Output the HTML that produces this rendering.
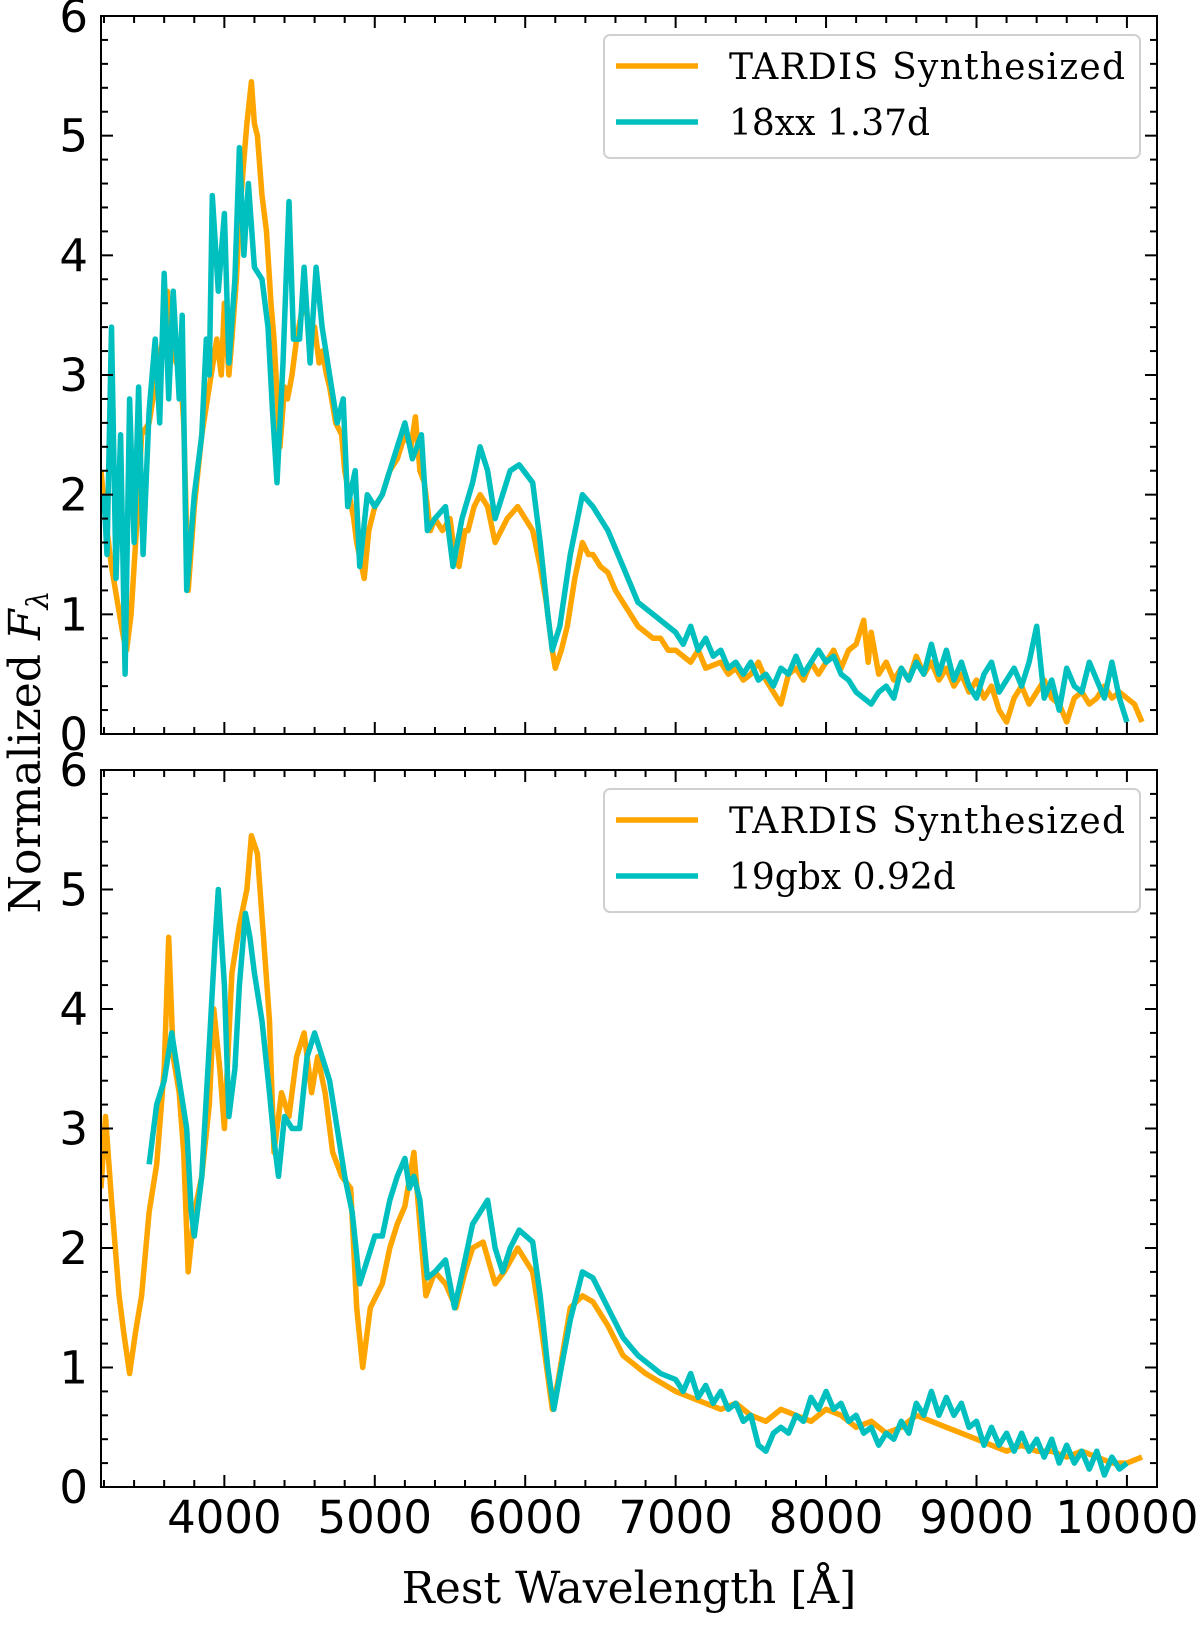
<!DOCTYPE html>
<html><head><meta charset="utf-8"><style>
html,body{margin:0;padding:0;background:#fff}
svg{display:block}
.tk{font-family:"DejaVu Sans","Liberation Sans",sans-serif;font-size:45px;fill:#000}
.sf{font-family:"DejaVu Serif","Liberation Serif",serif;fill:#000}
</style></head><body>
<svg id="chart" width="1200" height="1626" viewBox="0 0 1200 1626" xmlns="http://www.w3.org/2000/svg"></svg>
<script>
// Top panel data
const topOrangeW=[3180,3210,3250,3290,3330,3350,3380,3420,3450,3500,3550,3590,3620,3650,3680,3700,3730,3760,3800,3850,3900,3950,3980,4000,4030,4050,4080,4100,4130,4150,4180,4200,4220,4250,4280,4310,4330,4370,4400,4420,4450,4480,4510,4540,4570,4600,4630,4650,4680,4700,4740,4780,4800,4830,4860,4880,4930,4960,5000,5050,5100,5150,5200,5240,5270,5300,5330,5370,5400,5450,5500,5530,5560,5600,5620,5660,5700,5750,5800,5840,5880,5950,6000,6050,6100,6140,6180,6200,6240,6280,6330,6380,6420,6450,6500,6550,6600,6650,6700,6750,6800,6850,6900,6950,
7000,7100,7150,7200,7300,7350,7400,7450,7500,7550,7600,7650,7700,7750,7800,7850,7900,7950,8000,8050,8100,8150,8200,8250,8280,8300,8350,8400,8450,8500,8550,8600,8650,8700,8750,8800,8850,8900,8950,9000,9050,9100,9150,9200,9250,9300,9350,9400,9450,9500,9550,9600,9650,9700,9750,9800,9850,9900,9950,10000,10050,10100];
const topOrangeF=[2.2,1.8,1.4,1.1,0.8,0.7,1.0,1.8,2.5,2.6,3.0,3.3,3.7,3.3,3.1,3.2,2.6,1.2,1.9,2.5,2.9,3.3,3.0,3.6,3.0,3.3,3.8,4.3,4.8,5.1,5.45,5.1,5.0,4.5,4.2,3.6,3.3,2.4,2.9,2.8,3.0,3.3,3.5,3.6,3.3,3.4,3.1,3.2,3.0,2.9,2.6,2.5,2.2,2.0,1.8,1.6,1.3,1.7,1.9,2.0,2.2,2.3,2.5,2.4,2.65,2.2,2.1,1.7,1.8,1.7,1.8,1.5,1.4,1.7,1.7,1.9,2.0,1.9,1.6,1.7,1.8,1.9,1.8,1.7,1.4,1.1,0.7,0.55,0.7,0.9,1.3,1.6,1.5,1.5,1.4,1.35,1.2,1.1,1.0,0.9,0.85,0.8,0.8,0.7,
0.7,0.6,0.7,0.55,0.6,0.5,0.55,0.45,0.5,0.6,0.45,0.35,0.25,0.5,0.55,0.45,0.6,0.5,0.6,0.7,0.55,0.7,0.75,0.95,0.6,0.85,0.5,0.6,0.45,0.55,0.45,0.65,0.5,0.6,0.45,0.55,0.4,0.5,0.35,0.45,0.3,0.4,0.2,0.1,0.3,0.4,0.25,0.35,0.45,0.3,0.25,0.1,0.3,0.35,0.25,0.3,0.4,0.3,0.35,0.3,0.25,0.1];
const topCyanW=[3200,3220,3250,3280,3310,3340,3370,3400,3430,3460,3500,3540,3570,3600,3630,3660,3700,3720,3750,3800,3850,3880,3900,3920,3960,4000,4030,4070,4100,4130,4160,4200,4250,4290,4320,4350,4390,4430,4460,4500,4530,4570,4610,4650,4700,4750,4790,4820,4870,4900,4950,5000,5050,5100,5150,5200,5250,5310,5350,5400,5470,5520,5580,5650,5700,5750,5800,5850,5900,5960,6050,6100,6150,6180,6230,6300,6380,6450,6550,6650,6750,6850,6950,
7000,7050,7100,7150,7200,7250,7300,7350,7400,7450,7500,7550,7600,7650,7700,7750,7800,7850,7900,7950,8000,8050,8100,8150,8200,8250,8300,8350,8400,8450,8500,8550,8600,8650,8700,8750,8800,8850,8900,8950,9000,9050,9100,9150,9200,9250,9300,9350,9400,9450,9500,9550,9600,9650,9700,9750,9800,9850,9900,9950,10000];
const topCyanF=[2.0,1.5,3.4,1.3,2.5,0.5,2.8,1.6,2.9,1.5,2.7,3.3,2.6,3.85,2.8,3.7,2.8,3.5,1.2,2.0,2.5,3.3,3.0,4.5,3.7,4.35,3.1,3.8,4.9,4.0,4.6,3.9,3.8,3.4,2.7,2.1,3.1,4.45,3.3,3.3,3.9,3.1,3.9,3.4,3.0,2.6,2.8,1.9,2.2,1.4,2.0,1.9,2.0,2.2,2.4,2.6,2.3,2.5,1.7,1.8,1.9,1.4,1.8,2.1,2.4,2.2,1.8,2.0,2.2,2.25,2.1,1.6,1.0,0.7,0.9,1.5,2.0,1.9,1.7,1.4,1.1,1.0,0.9,
0.85,0.75,0.9,0.7,0.8,0.65,0.7,0.55,0.6,0.5,0.6,0.45,0.5,0.4,0.55,0.5,0.65,0.5,0.6,0.7,0.6,0.65,0.5,0.45,0.35,0.3,0.25,0.35,0.4,0.3,0.55,0.45,0.6,0.5,0.75,0.5,0.7,0.45,0.6,0.4,0.3,0.5,0.6,0.35,0.45,0.55,0.4,0.6,0.9,0.3,0.45,0.2,0.55,0.4,0.35,0.6,0.45,0.3,0.6,0.3,0.1];
// Bottom panel data
const botOrangeW=[3180,3210,3250,3300,3330,3370,3410,3450,3500,3550,3600,3630,3660,3700,3730,3760,3800,3850,3900,3930,3970,4000,4050,4100,4150,4180,4220,4260,4300,4330,4380,4430,4480,4530,4580,4620,4670,4720,4780,4840,4880,4920,4970,5050,5100,5150,5200,5260,5300,5340,5400,5470,5540,5600,5650,5720,5800,5860,5950,6050,6100,6180,6220,6300,6380,6450,6550,6650,6800,
7000,7100,7200,7300,7400,7500,7600,7700,7800,7900,8000,8100,8200,8300,8400,8500,8600,8700,8800,8900,9000,9100,9200,9300,9400,9500,9600,9700,9800,9900,10000,10100];
const botOrangeF=[2.5,3.1,2.4,1.6,1.3,0.95,1.3,1.6,2.3,2.7,3.5,4.6,3.6,3.3,2.8,1.8,2.3,2.6,3.2,4.0,3.5,3.0,4.3,4.7,5.0,5.45,5.3,4.6,3.9,2.8,3.3,3.1,3.6,3.8,3.3,3.6,3.3,2.8,2.6,2.5,1.5,1.0,1.5,1.7,2.0,2.2,2.35,2.8,2.2,1.6,1.8,1.7,1.5,1.8,2.0,2.05,1.7,1.8,2.0,1.8,1.4,0.65,0.9,1.5,1.6,1.55,1.35,1.1,0.95,
0.8,0.75,0.7,0.65,0.7,0.6,0.55,0.65,0.6,0.55,0.65,0.6,0.5,0.55,0.45,0.5,0.6,0.55,0.5,0.45,0.4,0.35,0.3,0.35,0.3,0.3,0.25,0.3,0.25,0.2,0.2,0.25];
const botCyanW=[3500,3550,3600,3650,3700,3750,3780,3800,3850,3900,3940,3960,4000,4030,4070,4100,4140,4170,4200,4250,4300,4330,4360,4400,4450,4500,4550,4600,4650,4700,4750,4800,4850,4900,4950,5000,5050,5100,5150,5200,5230,5260,5300,5350,5400,5470,5530,5600,5650,5700,5750,5800,5850,5900,5960,6050,6100,6150,6190,6240,6300,6380,6450,6550,6650,6750,6900,
7000,7050,7100,7150,7200,7250,7300,7350,7400,7450,7500,7550,7600,7650,7700,7750,7800,7850,7900,7950,8000,8050,8100,8150,8200,8250,8300,8350,8400,8450,8500,8550,8600,8650,8700,8750,8800,8850,8900,8950,9000,9050,9100,9150,9200,9250,9300,9350,9400,9450,9500,9550,9600,9650,9700,9750,9800,9850,9900,9950,10000];
const botCyanF=[2.7,3.2,3.4,3.8,3.4,3.0,2.3,2.1,2.6,3.7,4.6,5.0,4.2,3.1,3.5,4.2,4.8,4.6,4.3,3.9,3.3,2.9,2.6,3.1,3.0,3.0,3.6,3.8,3.6,3.4,3.0,2.6,2.3,1.7,1.9,2.1,2.1,2.4,2.6,2.75,2.5,2.6,2.4,1.75,1.8,1.9,1.5,1.9,2.2,2.3,2.4,2.0,1.8,2.0,2.15,2.05,1.6,1.0,0.65,1.0,1.4,1.8,1.75,1.5,1.25,1.1,0.95,
0.9,0.8,0.95,0.75,0.85,0.7,0.8,0.65,0.7,0.55,0.6,0.35,0.3,0.45,0.5,0.45,0.6,0.55,0.75,0.65,0.8,0.65,0.7,0.55,0.6,0.45,0.5,0.35,0.45,0.4,0.55,0.45,0.7,0.6,0.8,0.6,0.75,0.6,0.7,0.5,0.55,0.35,0.5,0.35,0.45,0.3,0.45,0.3,0.4,0.25,0.4,0.2,0.35,0.2,0.3,0.15,0.3,0.1,0.25,0.15,0.2];
const xTicks=[4000,5000,6000,7000,8000,9000,10000];
const yTicks=[0,1,2,3,4,5,6];
const legendTop=["TARDIS Synthesized","18xx 1.37d"];
const legendBot=["TARDIS Synthesized","19gbx 0.92d"];

const NS="http://www.w3.org/2000/svg";
const svg=document.getElementById('chart');
const X0=101,X1=1157,W0=3180,W1=10200;
function xs(w){return X0+(w-W0)/(W1-W0)*(X1-X0);}
function mk(tag,attrs,parent){const e=document.createElementNS(NS,tag);for(const k in attrs)e.setAttribute(k,attrs[k]);(parent||svg).appendChild(e);return e;}

function panel(top,bot,name,oW,oF,cW,cF,leg,showX){
  const g=mk('g',{});
  
  
  const ys=v=>bot-v/6*(bot-top);
  const clipId=name+'-clip';
  const cp=mk('clipPath',{id:clipId},g);mk('rect',{x:X0,y:top,width:X1-X0,height:bot-top},cp);
  const series=[[oW,oF,'#FFA500','tardis-line'],[cW,cF,'#00BFBF','observed-line']];
  series.forEach(s=>{
    let d='';for(let i=0;i<s[0].length;i++)d+=(i?'L':'M')+xs(s[0][i]).toFixed(1)+','+ys(s[1][i]).toFixed(1);
    const p=mk('path',{d:d,fill:'none',stroke:s[2],'stroke-width':5.5,'stroke-linejoin':'round','clip-path':'url(#'+clipId+')'},g);
    
    
  });
  for(let w=3200;w<=10200;w+=200){const x=xs(w);const major=w%1000===0;const L=major?12:7;
    mk('line',{x1:x,x2:x,y1:bot,y2:bot-L,stroke:'#000','stroke-width':2},g);
    mk('line',{x1:x,x2:x,y1:top,y2:top+L,stroke:'#000','stroke-width':2},g);}
  for(let k=0;k<=30;k++){const v=k*0.2;const y=ys(v);const major=k%5===0;const L=major?12:7;
    mk('line',{x1:X0,x2:X0+L,y1:y,y2:y,stroke:'#000','stroke-width':2},g);
    mk('line',{x1:X1,x2:X1-L,y1:y,y2:y,stroke:'#000','stroke-width':2},g);}
  const fr=mk('rect',{x:X0,y:top,width:X1-X0,height:bot-top,fill:'none',stroke:'#000','stroke-width':2},g);
  
  
  yTicks.forEach(v=>{const t=mk('text',{x:88,y:ys(v)+16,'text-anchor':'end',class:'tk'},g);t.textContent=v;
    
    });
  if(showX)xTicks.forEach(w=>{const t=mk('text',{x:xs(w),y:1533,'text-anchor':'middle',class:'tk'},g);t.textContent=w;
    
    });
  const lg=mk('g',{},g);
  
  
  const ly=top+19;
  mk('rect',{x:604,y:ly,width:536,height:123,rx:6,fill:'#fff','fill-opacity':0.8,stroke:'#d0d0d0','stroke-width':2},lg);
  const cols=['#FFA500','#00BFBF'];
  leg.forEach((s,i)=>{const yy=ly+31+i*56;
    const l=mk('line',{x1:616,x2:698,y1:yy,y2:yy,stroke:cols[i],'stroke-width':5.5},lg);
    
    
    const t=mk('text',{x:729,y:yy+13,class:'sf','font-size':36},lg);t.textContent=s;
    if(i===0)t.setAttribute('textLength',396);
    
    });
}
panel(16,734,'top-panel',topOrangeW,topOrangeF,topCyanW,topCyanF,legendTop,false);
panel(770,1487,'bottom-panel',botOrangeW,botOrangeF,botCyanW,botCyanF,legendBot,true);
const xl=mk('text',{x:629,y:1603,'text-anchor':'middle',class:'sf','font-size':44});
xl.textContent='Rest Wavelength [Å]';


const yl=mk('text',{x:0,y:0,'text-anchor':'middle',class:'sf','font-size':44,transform:'translate(40,752) rotate(-90)'});
yl.innerHTML='Normalized <tspan font-style="italic">F</tspan><tspan font-style="italic" font-size="30" dy="8">λ</tspan>';


</script>
</body></html>
